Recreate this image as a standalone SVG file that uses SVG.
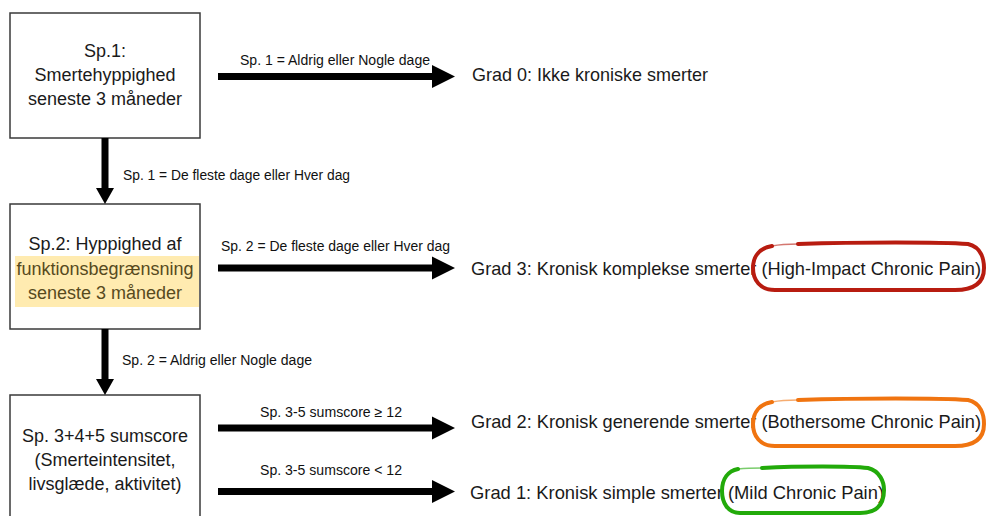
<svg xmlns="http://www.w3.org/2000/svg" width="986" height="516" viewBox="0 0 986 516">
  <style>
    .box { fill: #ffffff; stroke: #3a3a3a; stroke-width: 1.5; }
    .node-text { font-family: "Liberation Sans", Arial, sans-serif; font-size: 18px; fill: #1a1a1a; text-anchor: middle; }
    .hl-text { fill: #574a1e; }
    .hl { fill: #ffebb0; }
    .grade { font-family: "Liberation Sans", Arial, sans-serif; font-size: 18.5px; fill: #1a1a1a; }
    .label { font-family: "Liberation Sans", Arial, sans-serif; font-size: 14px; fill: #111111; }
    .arrow { fill: #000000; }
    .loop { fill: none; stroke-linecap: round; stroke-linejoin: round; }
  </style>
  <rect width="986" height="516" fill="#ffffff"/>

  <!-- question boxes -->
  <g id="q1">
    <rect class="box" x="10" y="13" width="190" height="125"/>
    <text class="node-text" x="105" y="57">Sp.1:</text>
    <text class="node-text" x="105" y="81">Smertehyppighed</text>
    <text class="node-text" x="105" y="105">seneste 3 måneder</text>
  </g>

  <g id="q2">
    <rect class="box" x="10" y="204" width="190" height="125"/>
    <rect class="hl" x="15" y="256" width="184" height="51"/>
    <text class="node-text" x="105" y="250">Sp.2: Hyppighed af</text>
    <text class="node-text hl-text" x="105" y="275">funktionsbegrænsning</text>
    <text class="node-text hl-text" x="105" y="299">seneste 3 måneder</text>
  </g>

  <g id="q345">
    <rect class="box" x="10" y="395" width="190" height="130"/>
    <text class="node-text" x="105" y="442">Sp. 3+4+5 sumscore</text>
    <text class="node-text" x="105" y="466">(Smerteintensitet,</text>
    <text class="node-text" x="105" y="490">livsglæde, aktivitet)</text>
  </g>

  <!-- outcome grades -->
  <g id="grade0">
    <text class="grade" x="472" y="81" textLength="236" lengthAdjust="spacingAndGlyphs">Grad 0: Ikke kroniske smerter</text>
  </g>

  <g id="grade3">
    <text class="grade" x="471" y="275" textLength="510" lengthAdjust="spacingAndGlyphs">Grad 3: Kronisk komplekse smerter (High-Impact Chronic Pain)</text>
    <path class="loop" stroke="#b81c10" stroke-width="4" d="M798,244 C860,242 940,242 968,244 C981,247 984,259 984,268 C984,282 975,290 955,290 L775,290 C760,290 753,280 753,268 C753,256 760,248 772,246"/>
    <path class="loop" stroke="#b81c10" stroke-width="1.5" opacity="0.6" d="M772,246 C782,244 790,244 798,244"/>
  </g>

  <g id="grade2">
    <text class="grade" x="471" y="428" textLength="510" lengthAdjust="spacingAndGlyphs">Grad 2: Kronisk generende smerter (Bothersome Chronic Pain)</text>
    <path class="loop" stroke="#f07410" stroke-width="4" d="M798,400 C860,398 940,398 968,400 C981,403 984,415 984,424 C984,438 975,446 955,446 L775,446 C760,446 753,436 753,424 C753,412 760,404 772,402"/>
    <path class="loop" stroke="#f07410" stroke-width="1.5" opacity="0.6" d="M772,402 C782,400 790,400 798,400"/>
  </g>

  <g id="grade1">
    <text class="grade" x="470" y="499" textLength="414" lengthAdjust="spacingAndGlyphs">Grad 1: Kronisk simple smerter (Mild Chronic Pain)</text>
    <path class="loop" stroke="#22aa0a" stroke-width="4" d="M762,468 C800,466 850,466 868,468 C880,471 884,482 884,490 C884,505 876,513 860,513 L740,513 C728,513 722,503 722,491 C722,479 728,471 738,469"/>
    <path class="loop" stroke="#22aa0a" stroke-width="1.5" opacity="0.6" d="M738,469 C748,468 755,468 762,468"/>
  </g>

  <!-- connectors -->
  <g id="connectors">
    <!-- horizontal arrows to grades -->
    <polygon class="arrow" points="218,73 432,73 432,65 455,76.5 432,88 432,80 218,80"/>
    <polygon class="arrow" points="218,264.5 432,264.5 432,256.5 455,268 432,279.5 432,271.5 218,271.5"/>
    <polygon class="arrow" points="218,424.5 432,424.5 432,416.5 455,428 432,439.5 432,431.5 218,431.5"/>
    <polygon class="arrow" points="218,488 432,488 432,480 455,491.5 432,503 432,495 218,495"/>
    <!-- vertical arrows between questions -->
    <polygon class="arrow" points="101.5,138 108.5,138 108.5,188 114,188 105,204 96,188 101.5,188"/>
    <polygon class="arrow" points="101.5,329 108.5,329 108.5,379 114,379 105,395 96,379 101.5,379"/>

    <text class="label" x="240" y="65" textLength="190" lengthAdjust="spacingAndGlyphs">Sp. 1 = Aldrig eller Nogle dage</text>
    <text class="label" x="221" y="251" textLength="229" lengthAdjust="spacingAndGlyphs">Sp. 2 = De fleste dage eller Hver dag</text>
    <text class="label" x="260" y="417" textLength="142" lengthAdjust="spacingAndGlyphs">Sp. 3-5 sumscore ≥ 12</text>
    <text class="label" x="260" y="475" textLength="142" lengthAdjust="spacingAndGlyphs">Sp. 3-5 sumscore &lt; 12</text>
    <text class="label" x="123" y="180" textLength="227" lengthAdjust="spacingAndGlyphs">Sp. 1 = De fleste dage eller Hver dag</text>
    <text class="label" x="122" y="365" textLength="190" lengthAdjust="spacingAndGlyphs">Sp. 2 = Aldrig eller Nogle dage</text>
  </g>
</svg>
